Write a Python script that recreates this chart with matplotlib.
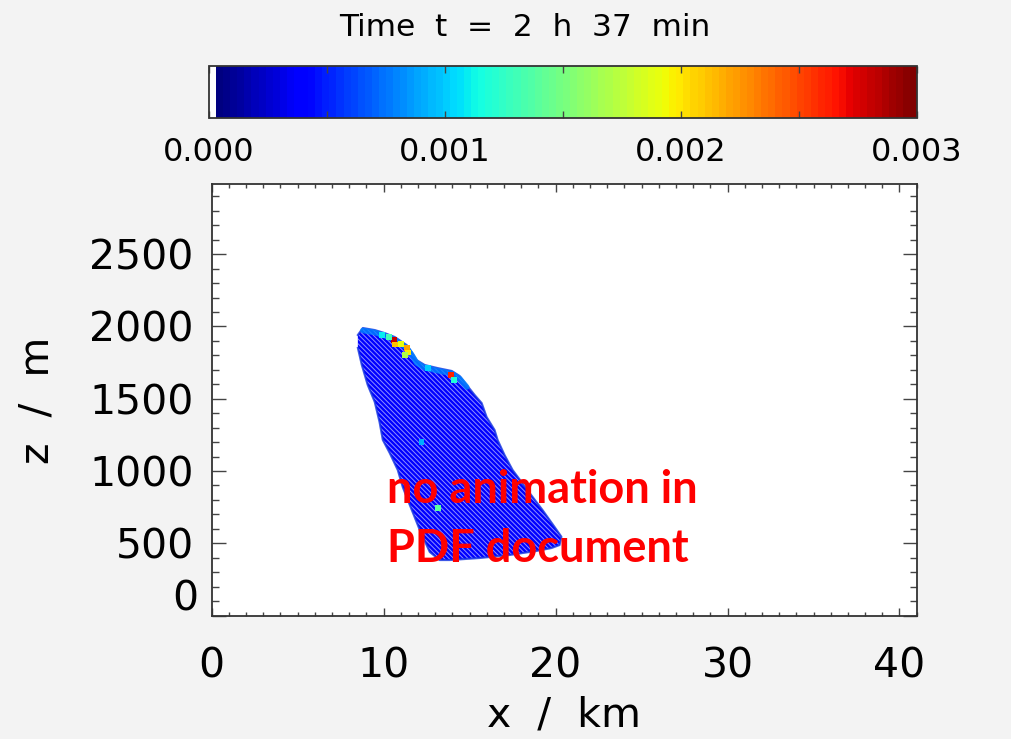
import matplotlib
matplotlib.use('Agg')
import matplotlib.pyplot as plt
import numpy as np
from matplotlib.colors import ListedColormap, BoundaryNorm
from matplotlib.cm import ScalarMappable
from matplotlib.ticker import MultipleLocator

# cloud outline, x in km and z in m
cloud_x = [8.50, 8.79, 9.48, 10.06, 10.64, 11.34, 11.63, 11.92, 12.39, 13.14, 13.96, 14.42,
           14.83, 15.29, 15.70, 15.99, 16.45, 16.63, 17.03, 17.50, 18.49, 19.24, 19.94, 20.34,
           20.23, 19.76, 18.89, 17.32, 15.58, 13.84, 13.26, 12.68, 12.10, 11.52, 11.11, 10.82,
           10.35, 9.95, 9.76, 9.48, 9.07, 8.73, 8.50]
cloud_z = [1941, 1989, 1975, 1954, 1927, 1871, 1823, 1767, 1733, 1712, 1692, 1657,
           1595, 1526, 1470, 1373, 1284, 1214, 1111, 1007, 848, 730, 613, 545,
           488, 467, 447, 419, 398, 384, 384, 440, 592, 765, 889, 1007,
           1125, 1215, 1339, 1478, 1596, 1733, 1851]
cloud_val = 0.00036

# lighter band along the cloud top
edge_x = [8.79, 9.48, 10.06, 10.64, 11.34, 11.63, 11.92, 12.39, 13.14, 13.96, 14.42, 14.83]
edge_z = [1972, 1958, 1936, 1908, 1852, 1804, 1748, 1714, 1694, 1674, 1639, 1581]
edge_val = 0.0008

# bright spots near the top
spot_x = [10.58, 10.64, 10.30, 11.34, 11.40, 11.25, 9.90, 13.94, 14.10, 12.60, 11.00, 13.15, 12.2]
spot_z = [1906, 1875, 1925, 1850, 1820, 1800, 1940, 1664, 1630, 1712, 1880, 744, 1200]
spot_val = [0.0028, 0.0021, 0.0013, 0.0022, 0.0020, 0.0017, 0.0011, 0.0026, 0.0012,
            0.0010, 0.0019, 0.0014, 0.0009]

x_ticks = [0, 10, 20, 30, 40]
z_ticks = [0, 500, 1000, 1500, 2000, 2500]
cb_ticks = [0, 0.0005, 0.001, 0.0015, 0.002, 0.0025, 0.003]
cb_labels = ['0.000', '', '0.001', '', '0.002', '', '0.003']

# jet with 100 steps, lowest step white
levels = np.linspace(0, 0.003, 101)
colors = plt.cm.jet(np.linspace(0, 1, 99))
colors = np.vstack([[1, 1, 1, 1], colors])
cmap = ListedColormap(colors)
norm = BoundaryNorm(levels, cmap.N)

plt.rcParams['font.family'] = 'DejaVu Sans'
plt.rcParams['hatch.linewidth'] = 0.7

fig = plt.figure(figsize=(10.12, 7.39), dpi=100)
fig.patch.set_facecolor('#f3f3f3')

ax = fig.add_axes([0.2092, 0.167, 0.6966, 0.584])
ax.set_facecolor('white')
ax.set_xlim(0, 41)
ax.set_ylim(0, 2985)

ax.fill(cloud_x, cloud_z, facecolor=cmap(norm(cloud_val)), edgecolor='none', zorder=2)
ax.fill(cloud_x, cloud_z, facecolor='none', edgecolor='#ffffff90', hatch='\\' * 7,
        linewidth=0, zorder=3)
ax.plot(cloud_x, cloud_z, color='#1030e0', lw=1.5, alpha=0.8, zorder=4)
ax.plot(edge_x, edge_z, color=cmap(norm(edge_val)), lw=4, alpha=0.8,
        solid_capstyle='round', zorder=5)
ax.scatter(spot_x, spot_z, c=spot_val, cmap=cmap, norm=norm, marker='s', s=18,
           linewidths=0, zorder=6)

ax.text(10.18, 779, 'no animation in', color='#ff0000', fontsize=32.5,
        fontweight='bold', family='Lato', ha='left', va='baseline', zorder=7)
ax.text(10.18, 371, 'PDF document', color='#ff0000', fontsize=32.5,
        fontweight='bold', family='Lato', ha='left', va='baseline', zorder=7)

ax.set_xticks(x_ticks)
ax.set_xticklabels([str(v) for v in x_ticks])
ax.set_yticks(z_ticks)
ax.set_yticklabels([''] + [str(v) for v in z_ticks[1:]])
ax.xaxis.set_minor_locator(MultipleLocator(1))
ax.yaxis.set_minor_locator(MultipleLocator(100))
ax.tick_params(axis='both', which='both', direction='in', top=True, right=True,
               color='#444444', width=1, labelsize=29.5)
ax.tick_params(axis='x', which='major', length=6, pad=22)
ax.tick_params(axis='x', which='minor', length=3)
ax.tick_params(axis='y', which='major', length=10, pad=13)
ax.tick_params(axis='y', which='minor', length=5)
for s in ax.spines.values():
    s.set_color('#333333')
    s.set_linewidth(1.3)
# the zero label sits a little above the axis, as in the original
ax.text(-0.0184, 108, '0', transform=ax.get_yaxis_transform(), fontsize=29.5,
        ha='right', va='center')

fig.text(564 / 1012, 1 - 716 / 739, 'x  /  km', fontsize=29.5, ha='center', va='center')
fig.text(38 / 1012, 1 - 400 / 739, 'z  /  m', fontsize=29.5, ha='center', va='center',
         rotation=90)

# colorbar on top
cax = fig.add_axes([209 / 1012, 1 - 118 / 739, 708 / 1012, 52 / 739])
cb = fig.colorbar(ScalarMappable(norm=norm, cmap=cmap), cax=cax, orientation='horizontal',
                  ticks=cb_ticks)
cb.ax.set_xticklabels(cb_labels)
cb.outline.set_edgecolor('#333333')
cb.outline.set_linewidth(1.3)
cb.ax.xaxis.set_ticks_position('both')
cb.ax.tick_params(direction='in', length=5, width=1, color='#444444', labelsize=23,
                  pad=14, labeltop=False, labelbottom=True)
cb.ax.minorticks_off()

fig.text(525 / 1012, 1 - 28 / 739, 'Time  t  =  2  h  37  min', fontsize=22.5,
         ha='center', va='center')

plt.savefig('out.png', dpi=100, facecolor=fig.get_facecolor())
plt.close()
